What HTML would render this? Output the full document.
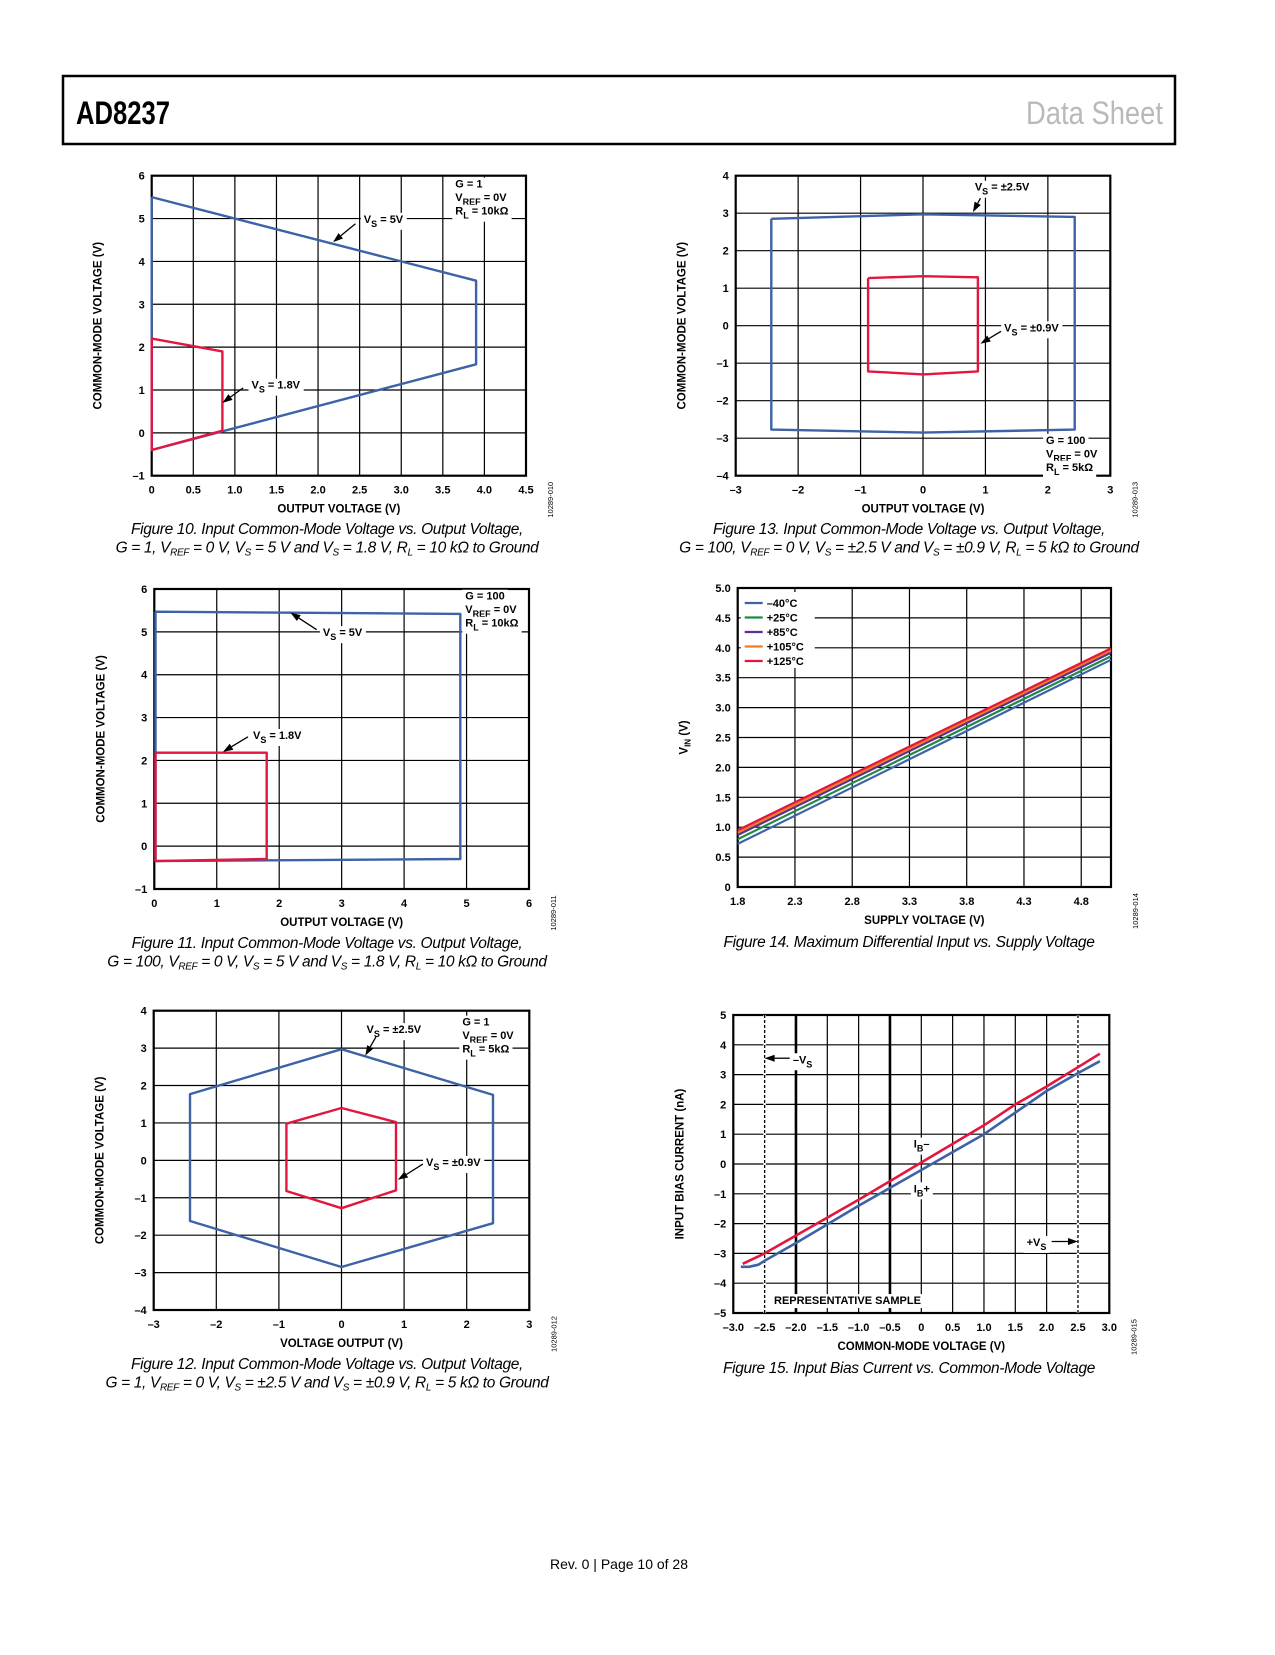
<!DOCTYPE html>
<html><head><meta charset="utf-8"><style>
html,body{margin:0;padding:0;background:#fff;}
body{width:1275px;height:1650px;overflow:hidden;position:relative;}
svg text{font-family:"Liberation Sans",sans-serif;}
</style></head><body>
<svg id="page" xmlns="http://www.w3.org/2000/svg" width="1275" height="1650" viewBox="0 0 1275 1650">
<rect x="63" y="76" width="1112" height="68" fill="#fff" stroke="#000" stroke-width="2.5"/>
<text x="76" y="124" font-size="32" font-weight="bold" textLength="94" lengthAdjust="spacingAndGlyphs">AD8237</text>
<text x="1026" y="124" font-size="32" fill="#b9b9b9" textLength="137" lengthAdjust="spacingAndGlyphs">Data Sheet</text>
<text x="619" y="1569" font-size="14" text-anchor="middle">Rev. 0 | Page 10 of 28</text>
</svg>
<script>
// ---------- data ----------
// Figure 10
const f10_xticks=[0,0.5,1,1.5,2,2.5,3,3.5,4,4.5];
const f10_xlabels=["0","0.5","1.0","1.5","2.0","2.5","3.0","3.5","4.0","4.5"];
const f10_yticks=[-1,0,1,2,3,4,5,6];
const f10_ylabels=["–1","0","1","2","3","4","5","6"];
const f10_blue_x=[0,3.9,3.9,0,0];
const f10_blue_y=[5.5,3.55,1.6,-0.4,5.5];
const f10_red_x=[0,0.85,0.85,0,0];
const f10_red_y=[2.2,1.9,0.05,-0.4,2.2];
// Figure 11
const f11_xticks=[0,1,2,3,4,5,6];
const f11_xlabels=["0","1","2","3","4","5","6"];
const f11_yticks=[-1,0,1,2,3,4,5,6];
const f11_ylabels=["–1","0","1","2","3","4","5","6"];
const f11_blue_x=[0.02,4.9,4.9,0.02,0.02];
const f11_blue_y=[5.47,5.42,-0.3,-0.35,5.47];
const f11_red_x=[0.02,1.8,1.8,0.02,0.02];
const f11_red_y=[2.18,2.18,-0.3,-0.35,2.18];
// Figure 12
const f12_xticks=[-3,-2,-1,0,1,2,3];
const f12_xlabels=["–3","–2","–1","0","1","2","3"];
const f12_yticks=[-4,-3,-2,-1,0,1,2,3,4];
const f12_ylabels=["–4","–3","–2","–1","0","1","2","3","4"];
const f12_blue_x=[0,2.42,2.42,0,-2.42,-2.42,0];
const f12_blue_y=[2.97,1.75,-1.68,-2.85,-1.62,1.77,2.97];
const f12_red_x=[0,0.87,0.87,0,-0.88,-0.88,0];
const f12_red_y=[1.4,1.02,-0.8,-1.28,-0.82,0.98,1.4];
// Figure 13
const f13_xticks=[-3,-2,-1,0,1,2,3];
const f13_xlabels=["–3","–2","–1","0","1","2","3"];
const f13_yticks=[-4,-3,-2,-1,0,1,2,3,4];
const f13_ylabels=["–4","–3","–2","–1","0","1","2","3","4"];
const f13_blue_x=[-2.43,0,2.43,2.43,0,-2.43,-2.43];
const f13_blue_y=[2.85,2.97,2.9,-2.77,-2.85,-2.77,2.85];
const f13_red_x=[-0.88,0,0.88,0.88,0,-0.88,-0.88];
const f13_red_y=[1.27,1.32,1.29,-1.22,-1.3,-1.22,1.27];
// Figure 14
const f14_xticks=[1.8,2.3,2.8,3.3,3.8,4.3,4.8];
const f14_xlabels=["1.8","2.3","2.8","3.3","3.8","4.3","4.8"];
const f14_yticks=[0,0.5,1,1.5,2,2.5,3,3.5,4,4.5,5];
const f14_ylabels=["0","0.5","1.0","1.5","2.0","2.5","3.0","3.5","4.0","4.5","5.0"];
const f14_temps=["–40°C","+25°C","+85°C","+105°C","+125°C"];
const f14_x=[1.8,5.06];
const f14_m40=[0.72,3.8];
const f14_p25=[0.8,3.86];
const f14_p85=[0.87,3.92];
const f14_p105=[0.91,3.96];
const f14_p125=[0.95,3.99];
// Figure 15
const f15_xticks=[-3,-2.5,-2,-1.5,-1,-0.5,0,0.5,1,1.5,2,2.5,3];
const f15_xlabels=["–3.0","–2.5","–2.0","–1.5","–1.0","–0.5","0","0.5","1.0","1.5","2.0","2.5","3.0"];
const f15_yticks=[-5,-4,-3,-2,-1,0,1,2,3,4,5];
const f15_ylabels=["–5","–4","–3","–2","–1","0","1","2","3","4","5"];
const f15_ibm_x=[-2.85,-2.5,-2.0,-1.0,0,1.0,1.5,2.0,2.5,2.85];
const f15_ibm_y=[-3.35,-3.0,-2.4,-1.2,0.05,1.3,2.0,2.6,3.25,3.7];
const f15_ibp_x=[-2.88,-2.75,-2.6,-2.5,-2.0,-1.0,0,1.0,2.0,2.5,2.85];
const f15_ibp_y=[-3.45,-3.45,-3.38,-3.25,-2.65,-1.4,-0.2,1.0,2.45,3.05,3.45];

// ---------- drawing ----------
const NS="http://www.w3.org/2000/svg";
const svg=document.getElementById('page');
const BLUE="#3d62a6", RED="#e2163f";
function mk(tag,attrs,parent){const el=document.createElementNS(NS,tag);for(const k in attrs)el.setAttribute(k,attrs[k]);parent.appendChild(el);return el;}

function chart(name,box,xr,yr,xt,xl,yt,yl,xtitle,ytitle,code){
  const g=mk('g',{},svg);
  
  
  const sx=v=>box.L+(v-xr[0])/(xr[1]-xr[0])*(box.R-box.L);
  const sy=v=>box.B-(v-yr[0])/(yr[1]-yr[0])*(box.B-box.T);
  xt.forEach((v,i)=>{
    const ln=mk('line',{x1:sx(v),x2:sx(v),y1:box.T,y2:box.B,stroke:'#000','stroke-width':1.2},g);
    
    
    const t=mk('text',{x:sx(v),y:box.B+18,'font-size':11,'font-weight':'bold','text-anchor':'middle'},g);
    
    
    t.textContent=xl[i];
  });
  yt.forEach((v,i)=>{
    const ln=mk('line',{x1:box.L,x2:box.R,y1:sy(v),y2:sy(v),stroke:'#000','stroke-width':1.2},g);
    
    
    const t=mk('text',{x:box.L-7,y:sy(v)+4,'font-size':11,'font-weight':'bold','text-anchor':'end'},g);
    
    
    t.textContent=yl[i];
  });
  const fr=mk('rect',{x:box.L,y:box.T,width:box.R-box.L,height:box.B-box.T,fill:'none',stroke:'#000','stroke-width':2.2},g);
  
  
  const xt2=mk('text',{x:(box.L+box.R)/2,y:box.B+37,'font-size':11.5,'font-weight':'bold','text-anchor':'middle'},g);
  
  
  xt2.textContent=xtitle;
  const cy=(box.T+box.B)/2, cx=box.L-50;
  const yt2=mk('text',{x:cx,y:cy,'font-size':11.5,'font-weight':'bold','text-anchor':'middle',transform:`rotate(-90 ${cx} ${cy})`},g);
  
  
  if(Array.isArray(ytitle)){ytitle.forEach(p=>{const s=mk('tspan',p[1]?{'font-size':8,dy:3}:{dy:p[2]||0},yt2);s.textContent=p[0];});}
  else yt2.textContent=ytitle;
  const cxx=box.R+27, cyy=box.B+24;
  const id=mk('text',{x:cxx,y:cyy,'font-size':7.5,'text-anchor':'middle',transform:`rotate(-90 ${cxx} ${cyy})`},g);
  
  
  id.textContent=code;
  return {g,sx,sy,box};
}
function series(c,xs,ys,color,name,w){
  const d=xs.map((x,i)=>(i?'L':'M')+c.sx(x).toFixed(1)+' '+c.sy(ys[i]).toFixed(1)).join(' ');
  const p=mk('path',{d:d,fill:'none',stroke:color,'stroke-width':w||2.4,'stroke-linejoin':'round'},c.g);
  
  
  return p;
}
function rich(g,x,y,parts,name,anchor,bg){
  const t=mk('text',{x:x,y:y,'font-size':11,'font-weight':'bold','text-anchor':anchor||'start'},g);
  
  
  let sub=false;
  parts.forEach(p=>{
    const a={};
    if(p[1]&&!sub){a.dy=4;a['font-size']=9;sub=true;}
    else if(!p[1]&&sub){a.dy=-4;sub=false;}
    else if(p[1]) a['font-size']=9;
    const s=mk('tspan',a,t);s.textContent=p[0];
  });
  if(bg){
    const b=t.getBBox();
    const r=document.createElementNS(NS,'rect');
    r.setAttribute('x',b.x-3);r.setAttribute('y',b.y-1);r.setAttribute('width',b.width+6);r.setAttribute('height',b.height+2);r.setAttribute('fill','#fff');
    
    
    g.insertBefore(r,t);
  }
  return t;
}
function legendBlock(g,x,y,lines,name){
  lines.forEach((ln,i)=>rich(g,x,y+i*13.5,ln,name+'-line',"start",true));
}
function arrow(g,x1,y1,x2,y2,name){
  const a=Math.atan2(y2-y1,x2-x1), L=10, W=3.5;
  const bx=x2-L*Math.cos(a), by=y2-L*Math.sin(a);
  const ln=mk('line',{x1:x1,y1:y1,x2:bx,y2:by,stroke:'#000','stroke-width':1.3},g);
  
  
  const px=-Math.sin(a)*W, py=Math.cos(a)*W;
  const h=mk('polygon',{points:`${x2},${y2} ${bx+px},${by+py} ${bx-px},${by-py}`,fill:'#000'},g);
  
  
}
function caption(lines,cx,y0,name){
  lines.forEach((ln,i)=>{
    const t=mk('text',{x:cx,y:y0+i*18.5,'font-size':15.5,'font-style':'italic','text-anchor':'middle','letter-spacing':'-0.35'},svg);
    
    
    ln.forEach(p=>{const s=mk('tspan',p[1]?{'font-size':10,dy:3}:{dy:p[2]||0},t);s.textContent=p[0];});
  });
}

// Figure 10
const c10=chart('figure-10-chart',{L:151.7,T:175.7,R:526,B:475.7},[0,4.5],[-1,6],f10_xticks,f10_xlabels,f10_yticks,f10_ylabels,'OUTPUT VOLTAGE (V)','COMMON-MODE VOLTAGE (V)','10289-010');
series(c10,f10_blue_x,f10_blue_y,BLUE,'vs-5v-series');
series(c10,f10_red_x,f10_red_y,RED,'vs-1.8v-series');
legendBlock(c10.g,c10.sx(3.65),c10.sy(5.72),[[["G = 1"]],[["V"],["REF",1],[" = 0V"]],[["R"],["L",1],[" = 10kΩ"]]],'conditions-legend');
rich(c10.g,c10.sx(2.55),c10.sy(4.9),[["V"],["S",1],[" = 5V"]],'vs-5v-label','start',true);
arrow(c10.g,c10.sx(2.45),c10.sy(4.88),c10.sx(2.18),c10.sy(4.45),'vs-5v-arrow');
rich(c10.g,c10.sx(1.2),c10.sy(1.03),[["V"],["S",1],[" = 1.8V"]],'vs-1.8v-label','start',true);
arrow(c10.g,c10.sx(1.1),c10.sy(1.05),c10.sx(0.85),c10.sy(0.7),'vs-1.8v-arrow');

// Figure 11
const c11=chart('figure-11-chart',{L:154.3,T:589,R:529,B:889},[0,6],[-1,6],f11_xticks,f11_xlabels,f11_yticks,f11_ylabels,'OUTPUT VOLTAGE (V)','COMMON-MODE VOLTAGE (V)','10289-011');
series(c11,f11_blue_x,f11_blue_y,BLUE,'vs-5v-series');
series(c11,f11_red_x,f11_red_y,RED,'vs-1.8v-series');
legendBlock(c11.g,c11.sx(4.98),c11.sy(5.75),[[["G = 100"]],[["V"],["REF",1],[" = 0V"]],[["R"],["L",1],[" = 10kΩ"]]],'conditions-legend');
rich(c11.g,c11.sx(2.7),c11.sy(4.9),[["V"],["S",1],[" = 5V"]],'vs-5v-label','start',true);
arrow(c11.g,c11.sx(2.6),c11.sy(5.05),c11.sx(2.18),c11.sy(5.45),'vs-5v-arrow');
rich(c11.g,c11.sx(1.58),c11.sy(2.5),[["V"],["S",1],[" = 1.8V"]],'vs-1.8v-label','start',true);
arrow(c11.g,c11.sx(1.5),c11.sy(2.55),c11.sx(1.1),c11.sy(2.2),'vs-1.8v-arrow');

// Figure 12
const c12=chart('figure-12-chart',{L:153.7,T:1010.7,R:529.3,B:1310},[-3,3],[-4,4],f12_xticks,f12_xlabels,f12_yticks,f12_ylabels,'VOLTAGE OUTPUT (V)','COMMON-MODE VOLTAGE (V)','10289-012');
series(c12,f12_blue_x,f12_blue_y,BLUE,'vs-2.5v-series');
series(c12,f12_red_x,f12_red_y,RED,'vs-0.9v-series');
legendBlock(c12.g,c12.sx(1.93),c12.sy(3.6),[[["G = 1"]],[["V"],["REF",1],[" = 0V"]],[["R"],["L",1],[" = 5kΩ"]]],'conditions-legend');
rich(c12.g,c12.sx(0.4),c12.sy(3.4),[["V"],["S",1],[" = ±2.5V"]],'vs-2.5v-label','start',true);
arrow(c12.g,c12.sx(0.55),c12.sy(3.3),c12.sx(0.38),c12.sy(2.8),'vs-2.5v-arrow');
rich(c12.g,c12.sx(1.35),c12.sy(-0.15),[["V"],["S",1],[" = ±0.9V"]],'vs-0.9v-label','start',true);
arrow(c12.g,c12.sx(1.3),c12.sy(-0.1),c12.sx(0.9),c12.sy(-0.52),'vs-0.9v-arrow');

// Figure 13
const c13=chart('figure-13-chart',{L:735.7,T:175.7,R:1110.3,B:475.7},[-3,3],[-4,4],f13_xticks,f13_xlabels,f13_yticks,f13_ylabels,'OUTPUT VOLTAGE (V)','COMMON-MODE VOLTAGE (V)','10289-013');
series(c13,f13_blue_x,f13_blue_y,BLUE,'vs-2.5v-series');
series(c13,f13_red_x,f13_red_y,RED,'vs-0.9v-series');
legendBlock(c13.g,c13.sx(1.97),c13.sy(-3.15),[[["G = 100"]],[["V"],["REF",1],[" = 0V"]],[["R"],["L",1],[" = 5kΩ"]]],'conditions-legend');
rich(c13.g,c13.sx(0.83),c13.sy(3.6),[["V"],["S",1],[" = ±2.5V"]],'vs-2.5v-label','start',true);
arrow(c13.g,c13.sx(0.92),c13.sy(3.4),c13.sx(0.8),c13.sy(3.03),'vs-2.5v-arrow');
rich(c13.g,c13.sx(1.3),c13.sy(-0.15),[["V"],["S",1],[" = ±0.9V"]],'vs-0.9v-label','start',true);
arrow(c13.g,c13.sx(1.25),c13.sy(-0.15),c13.sx(0.92),c13.sy(-0.48),'vs-0.9v-arrow');

// Figure 14
const c14=chart('figure-14-chart',{L:737.7,T:588,R:1111,B:887},[1.8,5.06],[0,5],f14_xticks,f14_xlabels,f14_yticks,f14_ylabels,'SUPPLY VOLTAGE (V)',[["V"],["IN",1],[" (V)",0,-3]],'10289-014');
const f14_series=[f14_m40,f14_p25,f14_p85,f14_p105,f14_p125];
const f14_colors=[BLUE,"#1e8a44","#5b2e91","#f57a20",RED];
f14_series.forEach((s,i)=>series(c14,f14_x,s,f14_colors[i],'temp-series-'+i,2.2));
const lgbg=mk('rect',{x:c14.box.L+3,y:c14.box.T+4,width:74,height:76,fill:'#fff'},c14.g);


f14_temps.forEach((t,i)=>{
  const y=c14.box.T+15+i*14.5;
  const l=mk('line',{x1:c14.box.L+7,x2:c14.box.L+25,y1:y,y2:y,stroke:f14_colors[i],'stroke-width':2.2},c14.g);
  
  
  const tx=mk('text',{x:c14.box.L+29,y:y+4,'font-size':11,'font-weight':'bold'},c14.g);
  
  
  tx.textContent=t;
});

// Figure 15
const c15=chart('figure-15-chart',{L:733.3,T:1015,R:1109.3,B:1313},[-3,3],[-5,5],f15_xticks,f15_xlabels,f15_yticks,f15_ylabels,'COMMON-MODE VOLTAGE (V)','INPUT BIAS CURRENT (nA)','10289-015');
[-2,-0.5].forEach(v=>{const l=mk('line',{x1:c15.sx(v),x2:c15.sx(v),y1:c15.box.T,y2:c15.box.B,stroke:'#000','stroke-width':2.6},c15.g);
  
  });
[-2.5,2.5].forEach(v=>{
  const w=mk('line',{x1:c15.sx(v),x2:c15.sx(v),y1:c15.box.T,y2:c15.box.B,stroke:'#fff','stroke-width':2.5},c15.g);
  
  
  const l=mk('line',{x1:c15.sx(v),x2:c15.sx(v),y1:c15.box.T,y2:c15.box.B,stroke:'#000','stroke-width':1.3,'stroke-dasharray':'3 2'},c15.g);
  
  });
series(c15,f15_ibm_x,f15_ibm_y,RED,'ib-minus-series',2.6);
series(c15,f15_ibp_x,f15_ibp_y,BLUE,'ib-plus-series',2.6);
rich(c15.g,c15.sx(-2.05),c15.sy(3.38),[["–V"],["S",1]],'neg-supply-label','start',true);
arrow(c15.g,c15.sx(-2.1),c15.sy(3.55),c15.sx(-2.5),c15.sy(3.55),'neg-supply-arrow');
rich(c15.g,c15.sx(1.68),c15.sy(-2.75),[["+V"],["S",1]],'pos-supply-label','start',true);
arrow(c15.g,c15.sx(2.08),c15.sy(-2.6),c15.sx(2.5),c15.sy(-2.6),'pos-supply-arrow');
rich(c15.g,c15.sx(-0.12),c15.sy(0.55),[["I"],["B",1],["–"]],'ib-minus-label','start',true);
rich(c15.g,c15.sx(-0.12),c15.sy(-0.95),[["I"],["B",1],["+"]],'ib-plus-label','start',true);
rich(c15.g,c15.sx(-2.35),c15.sy(-4.7),[["REPRESENTATIVE SAMPLE"]],'representative-sample-note','start',true);

// Captions
caption([[["Figure 10. Input Common-Mode Voltage vs. Output Voltage,"]],[["G = 1, V"],["REF",1],[" = 0 V, V",0,-3],["S",1],[" = 5 V and V",0,-3],["S",1],[" = 1.8 V, R",0,-3],["L",1],[" = 10 kΩ to Ground",0,-3]]],327,534,'figure-10-caption');
caption([[["Figure 11. Input Common-Mode Voltage vs. Output Voltage,"]],[["G = 100, V"],["REF",1],[" = 0 V, V",0,-3],["S",1],[" = 5 V and V",0,-3],["S",1],[" = 1.8 V, R",0,-3],["L",1],[" = 10 kΩ to Ground",0,-3]]],327,948,'figure-11-caption');
caption([[["Figure 12. Input Common-Mode Voltage vs. Output Voltage,"]],[["G = 1, V"],["REF",1],[" = 0 V, V",0,-3],["S",1],[" = ±2.5 V and V",0,-3],["S",1],[" = ±0.9 V, R",0,-3],["L",1],[" = 5 kΩ to Ground",0,-3]]],327,1369,'figure-12-caption');
caption([[["Figure 13. Input Common-Mode Voltage vs. Output Voltage,"]],[["G = 100, V"],["REF",1],[" = 0 V, V",0,-3],["S",1],[" = ±2.5 V and V",0,-3],["S",1],[" = ±0.9 V, R",0,-3],["L",1],[" = 5 kΩ to Ground",0,-3]]],909,534,'figure-13-caption');
caption([[["Figure 14. Maximum Differential Input vs. Supply Voltage"]]],909,947,'figure-14-caption');
caption([[["Figure 15. Input Bias Current vs. Common-Mode Voltage"]]],909,1373,'figure-15-caption');
</script>
</body></html>
